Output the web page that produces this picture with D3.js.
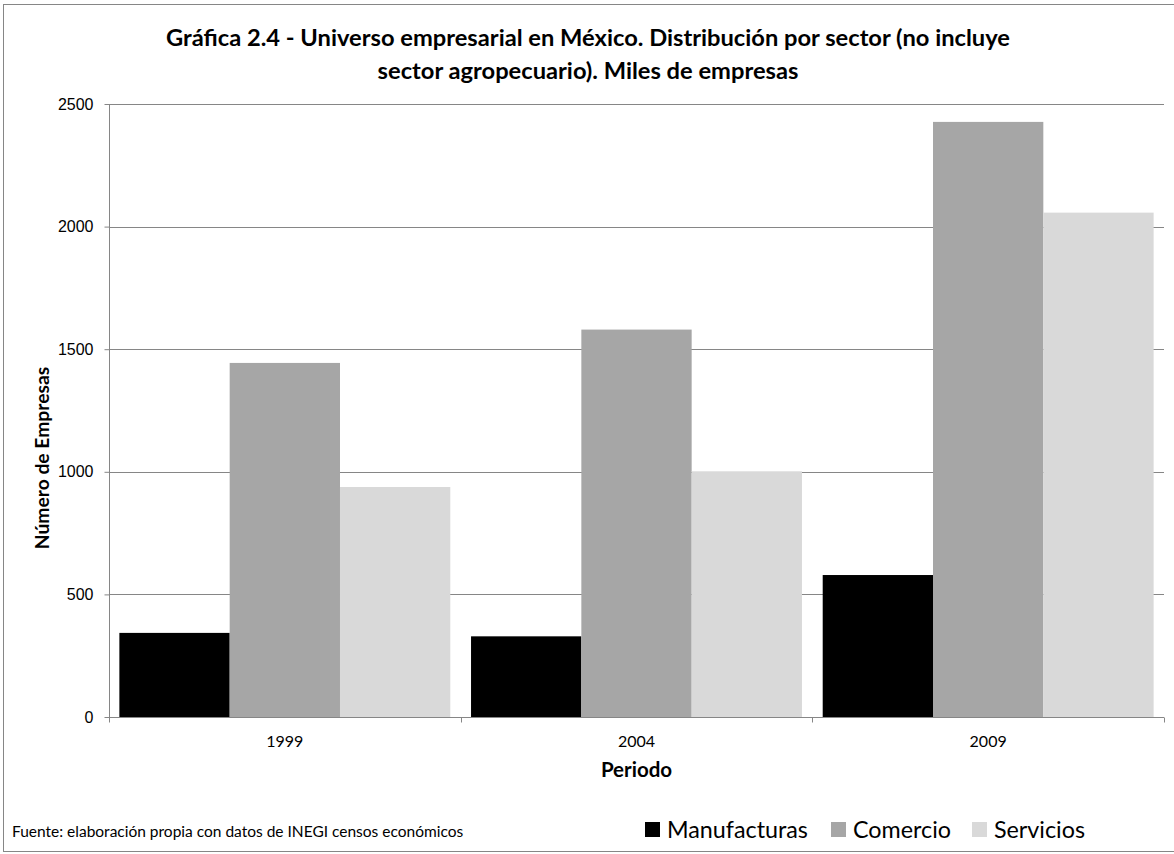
<!DOCTYPE html>
<html>
<head>
<meta charset="utf-8">
<script src="https://cdn.jsdelivr.net/npm/d3@7"></script>
<style>
  body { margin: 0; background: #fff; }
  svg { display: block; font-family: Lato, "Open Sans", sans-serif; }
</style>
</head>
<body>
<div id="chart"></div>
<script>
const periods = ["1999", "2004", "2009"];
const sectors = ["Manufacturas", "Comercio", "Servicios"];
const manufacturas = [343, 329, 579];
const comercio = [1444, 1580, 2427];
const servicios = [938, 1002, 2057];
const yTicks = [0, 500, 1000, 1500, 2000, 2500];
const colors = ["#000000", "#a6a6a6", "#d9d9d9"];

const seriesValues = [manufacturas, comercio, servicios];
let data = [];
periods.forEach((p, i) => {
  sectors.forEach((s, j) => {
    data.push({period: p, sector: s, n: seriesValues[j][i]});
  });
});

const width = 1174, height = 854;
let margin = {left: 109, right: 10, top: 104, bottom: 137};

const svg = d3.select("#chart")
  .append("svg")
  .attr("width", width)
  .attr("height", height);

// chart frame
svg.append("rect")
  .attr("x", 3.5).attr("y", 4.5)
  .attr("width", width + 10).attr("height", height - 7)
  .attr("fill", "#fff")
  .attr("stroke", "#868686");

let x0 = d3.scaleBand()
  .domain(periods)
  .range([margin.left, width - margin.right]);

let x1 = d3.scaleBand()
  .domain(sectors)
  .range([0, x0.bandwidth()])
  .paddingOuter(0.094);

let y = d3.scaleLinear()
  .domain([0, 2500])
  .range([height - margin.bottom, margin.top]);

let color = d3.scaleOrdinal().domain(sectors).range(colors);

// gridlines
svg.append("g")
  .selectAll("line")
  .data(yTicks.filter(d => d > 0))
  .join("line")
    .attr("x1", margin.left)
    .attr("x2", width - margin.right)
    .attr("y1", d => Math.round(y(d)) + 0.5)
    .attr("y2", d => Math.round(y(d)) + 0.5)
    .attr("stroke", "#868686");

// bars
svg.append("g")
  .selectAll("rect")
  .data(data)
  .join("rect")
    .attr("x", d => x0(d.period) + x1(d.sector))
    .attr("width", x1.bandwidth())
    .attr("y", d => y(d.n))
    .attr("height", d => y(0) - y(d.n))
    .attr("fill", d => color(d.sector));

// y axis
let yAxisGroup = svg.append("g")
  .attr("transform", `translate(${margin.left + 0.5}, 0)`)
  .call(d3.axisLeft(y).tickValues(yTicks).tickSize(5).tickPadding(11).tickFormat(d3.format("d")));
yAxisGroup.selectAll("path, line").attr("stroke", "#868686");
yAxisGroup.selectAll("text").attr("font-size", "16px").attr("fill", "#000");
yAxisGroup.select(".domain").attr("d", `M0,${margin.top}V${y(0)}`);

// x axis
let xAxisGroup = svg.append("g")
  .attr("transform", `translate(0, ${Math.round(y(0)) + 0.5})`);
xAxisGroup.append("line")
  .attr("x1", margin.left).attr("x2", width - margin.right)
  .attr("stroke", "#868686");
xAxisGroup.selectAll("line.tick")
  .data(periods.map(p => x0(p)).concat([width - margin.right]))
  .join("line")
    .attr("class", "tick")
    .attr("x1", d => Math.round(d) + 0.5).attr("x2", d => Math.round(d) + 0.5)
    .attr("y1", 0).attr("y2", 5)
    .attr("stroke", "#868686");
xAxisGroup.selectAll("text")
  .data(periods)
  .join("text")
    .attr("x", d => x0(d) + x0.bandwidth() / 2)
    .attr("y", 29)
    .attr("text-anchor", "middle")
    .attr("font-size", "16px")
    .text(d => d);

// titles
let title = svg.append("text")
  .attr("x", 588)
  .attr("text-anchor", "middle")
  .attr("font-size", "23.7px")
  .attr("font-weight", "bold");
title.append("tspan").attr("x", 588).attr("y", 46)
  .text("Gráfica 2.4 - Universo empresarial en México. Distribución por sector (no incluye");
title.append("tspan").attr("x", 588).attr("y", 79)
  .text("sector agropecuario). Miles de empresas");

svg.append("text")
  .attr("x", x0.range()[0] + (x0.range()[1] - x0.range()[0]) / 2)
  .attr("y", 777)
  .attr("text-anchor", "middle")
  .attr("font-size", "20.5px")
  .attr("font-weight", "bold")
  .text("Periodo");

svg.append("text")
  .attr("transform", "translate(49, 458) rotate(-90)")
  .attr("text-anchor", "middle")
  .attr("font-size", "19.3px")
  .attr("font-weight", "bold")
  .text("Número de Empresas");

svg.append("text")
  .attr("x", 12)
  .attr("y", 837)
  .attr("font-size", "15.5px")
  .text("Fuente: elaboración propia con datos de INEGI censos económicos");

// legend
const legendX = [645, 831, 972];
let legend = svg.append("g");
sectors.forEach((s, i) => {
  legend.append("rect")
    .attr("x", legendX[i]).attr("y", 822)
    .attr("width", 15).attr("height", 15)
    .attr("fill", color(s));
  legend.append("text")
    .attr("x", legendX[i] + 22).attr("y", 838)
    .attr("font-size", "23.3px")
    .text(s);
});
</script>
</body>
</html>
